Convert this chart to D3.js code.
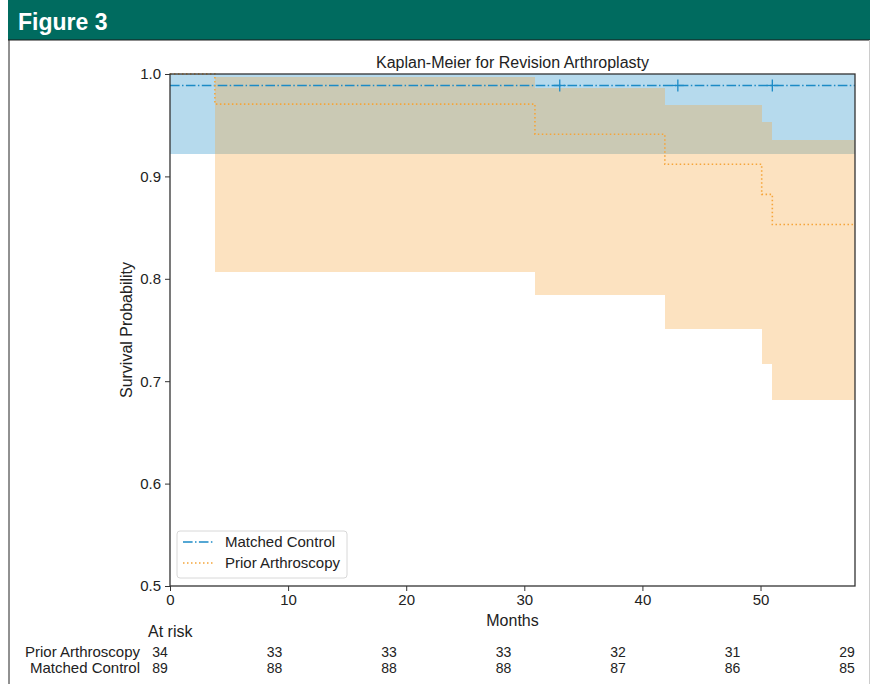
<!DOCTYPE html>
<html>
<head>
<meta charset="utf-8">
<script src="https://cdn.jsdelivr.net/npm/d3@7"></script>
<style>
  html, body { margin: 0; padding: 0; background: #fff; }
  svg { display: block; font-family: "Liberation Sans", Arial, sans-serif; }
</style>
</head>
<body>
<div id="chart"></div>
<script>
// Kaplan-Meier step data (months, survival probability)
const controlTimes = [0, 58];
const controlSurv = [0.9888];
const controlUpper = [1.0];
const controlLower = [0.922];
const controlCensored = [33, 43, 51];

const priorTimes = [0, 3.8, 30.9, 41.9, 50.1, 51.0, 58];
const priorSurv = [1.0, 0.9706, 0.9412, 0.9118, 0.8824, 0.853];
const priorUpper = [null, 0.997, 0.986, 0.970, 0.953, 0.936];
const priorLower = [null, 0.807, 0.784, 0.751, 0.717, 0.682];

const xTicks = [0, 10, 20, 30, 40, 50];
const yTicks = [0.5, 0.6, 0.7, 0.8, 0.9, 1.0];

const riskTimes = [0, 10, 20, 30, 40, 50, 60];
const riskPrior = [34, 33, 33, 33, 32, 31, 29];
const riskControl = [89, 88, 88, 88, 87, 86, 85];

const W = 872, H = 684;
const blue = '#1c8bc6', orange = '#f5a53a';
const fillAlpha = 0.32;

const svg = d3.select('#chart').append('svg')
    .attr('width', W)
    .attr('height', H);

// figure frame + header
svg.append('rect').attr('x', 8).attr('y', 0).attr('width', 862).attr('height', 40).attr('fill', '#006b5f');
svg.append('line').attr('x1', 8).attr('x2', 870).attr('y1', 40).attr('y2', 40).attr('stroke', '#1a1a1a').attr('stroke-width', 1);
svg.append('line').attr('x1', 9).attr('x2', 9).attr('y1', 40).attr('y2', H).attr('stroke', '#222').attr('stroke-width', 1);
svg.append('line').attr('x1', 869.5).attr('x2', 869.5).attr('y1', 40).attr('y2', H).attr('stroke', '#ccc').attr('stroke-width', 1);
svg.append('text').attr('x', 18).attr('y', 30)
    .attr('fill', '#fff').attr('font-size', 23).attr('font-weight', 'bold')
    .text('Figure 3');

const x = d3.scaleLinear().domain([0, 58]).range([170, 855]);
const y = d3.scaleLinear().domain([0.5, 1.0]).range([586, 74]);

// step band helper
function bandRects(times, lower, upper) {
    const out = [];
    for (let i = 0; i < lower.length; i++) {
        if (lower[i] == null) continue;
        out.push({ x0: times[i], x1: times[i + 1], lo: lower[i], hi: upper[i] });
    }
    return out;
}

function stepPath(times, surv) {
    const pts = [];
    for (let i = 0; i < surv.length; i++) {
        pts.push([times[i], surv[i]]);
        pts.push([times[i + 1], surv[i]]);
    }
    return d3.line().x(d => x(d[0])).y(d => y(d[1]))(pts);
}

const plot = svg.append('g');

// confidence bands
plot.selectAll('rect.cband')
    .data(bandRects(controlTimes, controlLower, controlUpper))
    .join('rect')
    .attr('class', 'cband')
    .attr('x', d => x(d.x0))
    .attr('width', d => x(d.x1) - x(d.x0))
    .attr('y', d => y(d.hi))
    .attr('height', d => y(d.lo) - y(d.hi))
    .attr('fill', blue).attr('fill-opacity', fillAlpha)
    .attr('shape-rendering', 'crispEdges');

plot.selectAll('rect.pband')
    .data(bandRects(priorTimes, priorLower, priorUpper))
    .join('rect')
    .attr('class', 'pband')
    .attr('x', d => x(d.x0))
    .attr('width', d => x(d.x1) - x(d.x0))
    .attr('y', d => y(d.hi))
    .attr('height', d => y(d.lo) - y(d.hi))
    .attr('fill', orange).attr('fill-opacity', fillAlpha)
    .attr('shape-rendering', 'crispEdges');

// survival lines
plot.append('path')
    .attr('d', stepPath(controlTimes, controlSurv))
    .attr('fill', 'none').attr('stroke', blue).attr('stroke-width', 1.5)
    .attr('stroke-dasharray', '9.6,2.4,1.5,2.4');

plot.append('path')
    .attr('d', stepPath(priorTimes, priorSurv))
    .attr('fill', 'none').attr('stroke', orange).attr('stroke-width', 1.6)
    .attr('stroke-dasharray', '1.5,2.5');

// censor marks
plot.selectAll('line.censor')
    .data(controlCensored)
    .join('line')
    .attr('class', 'censor')
    .attr('x1', d => x(d)).attr('x2', d => x(d))
    .attr('y1', y(controlSurv[0]) - 6).attr('y2', y(controlSurv[0]) + 6)
    .attr('stroke', blue).attr('stroke-width', 1.3);
plot.selectAll('line.censorh')
    .data(controlCensored)
    .join('line')
    .attr('class', 'censorh')
    .attr('x1', d => x(d) - 6).attr('x2', d => x(d) + 6)
    .attr('y1', y(controlSurv[0])).attr('y2', y(controlSurv[0]))
    .attr('stroke', blue).attr('stroke-width', 1.3);

// axes
const xAxis = svg.append('g')
    .attr('transform', `translate(0,${y(0.5)})`)
    .call(d3.axisBottom(x).tickValues(xTicks).tickFormat(d3.format('d')).tickSize(5).tickPadding(3));
const yAxis = svg.append('g')
    .attr('transform', `translate(${x(0)},0)`)
    .call(d3.axisLeft(y).tickValues(yTicks).tickFormat(d3.format('.1f')).tickSize(5).tickPadding(4));
[xAxis, yAxis].forEach(a => {
    a.select('.domain').remove();
    a.selectAll('line').attr('stroke', '#333').attr('stroke-width', 1);
    a.selectAll('text').attr('fill', '#222').attr('font-size', 15)
        .attr('font-family', '"Liberation Sans", Arial, sans-serif');
});

svg.append('rect')
    .attr('x', x(0)).attr('y', y(1.0))
    .attr('width', x(58) - x(0)).attr('height', y(0.5) - y(1.0))
    .attr('fill', 'none').attr('stroke', '#333').attr('stroke-width', 1.3);

// titles
svg.append('text').attr('x', (x(0) + x(58)) / 2).attr('y', 68)
    .attr('text-anchor', 'middle').attr('font-size', 16).attr('fill', '#222')
    .text('Kaplan-Meier for Revision Arthroplasty');
svg.append('text').attr('x', (x(0) + x(58)) / 2).attr('y', 626)
    .attr('text-anchor', 'middle').attr('font-size', 16).attr('fill', '#222')
    .text('Months');
svg.append('text')
    .attr('transform', `translate(132,${(y(0.5) + y(1.0)) / 2}) rotate(-90)`)
    .attr('text-anchor', 'middle').attr('font-size', 16).attr('fill', '#222')
    .text('Survival Probability');

// legend
const legend = svg.append('g').attr('transform', 'translate(177,531)');
legend.append('rect').attr('x', 0).attr('y', 0).attr('width', 170).attr('height', 47)
    .attr('rx', 3).attr('fill', '#fff').attr('fill-opacity', 0.85)
    .attr('stroke', '#d8d8d8').attr('stroke-width', 1);
const legendItems = [
    { name: 'Matched Control', color: blue, dash: '9.6,2.4,1.5,2.4' },
    { name: 'Prior Arthroscopy', color: orange, dash: '1.5,2.5' }
];
legendItems.forEach((d, i) => {
    const cy = 11 + i * 21;
    legend.append('line').attr('x1', 6).attr('x2', 36).attr('y1', cy).attr('y2', cy)
        .attr('stroke', d.color).attr('stroke-width', 1.5).attr('stroke-dasharray', d.dash);
    legend.append('text').attr('x', 48).attr('y', cy + 5)
        .attr('font-size', 15).attr('fill', '#222').text(d.name);
});

// at-risk table
const riskX = d3.scaleLinear().domain([0, 60]).range([160, 847]);
svg.append('text').attr('x', 148).attr('y', 637).attr('font-size', 16).attr('fill', '#222').text('At risk');
const riskRows = [
    { label: 'Prior Arthroscopy', counts: riskPrior, y: 657 },
    { label: 'Matched Control', counts: riskControl, y: 673 }
];
riskRows.forEach(row => {
    svg.append('text').attr('x', 140).attr('y', row.y)
        .attr('text-anchor', 'end').attr('font-size', 15).attr('fill', '#222').text(row.label);
    svg.selectAll(null)
        .data(row.counts)
        .join('text')
        .attr('x', (d, i) => riskX(riskTimes[i]))
        .attr('y', row.y)
        .attr('text-anchor', 'middle').attr('font-size', 14).attr('fill', '#222')
        .text(d => d);
});
</script>
</body>
</html>
